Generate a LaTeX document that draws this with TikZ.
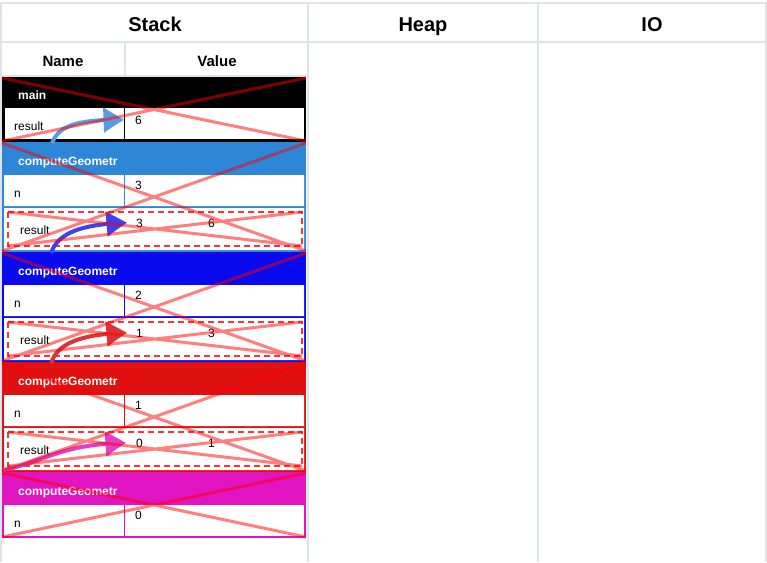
\documentclass[tikz,border=0pt]{standalone}
\usepackage{fontspec}
\setmainfont{Liberation Sans}
\usepackage{xcolor}
\usetikzlibrary{arrows.meta,bending,positioning,calc}
\definecolor{gridln}{HTML}{DFE4EC}
\definecolor{fone}{HTML}{2E86D6}
\definecolor{ftwo}{HTML}{0A0AEE}
\definecolor{fthree}{HTML}{E01010}
\definecolor{ffour}{HTML}{E014C0}
\definecolor{aone}{HTML}{5B9BE2}
\definecolor{atwo}{HTML}{4040F0}
\definecolor{athree}{HTML}{DD3333}
\definecolor{afour}{HTML}{E040C8}
\tikzset{
  grid/.style  ={draw=gridln,line width=2pt},
  colhd/.style ={anchor=base,font=\fontsize{20}{22}\selectfont\bfseries},
  subhd/.style ={anchor=base,font=\fontsize{15}{17}\selectfont\bfseries},
  fhd/.style   ={anchor=base west,inner sep=0pt,text=white,font=\fontsize{12}{14}\selectfont\bfseries},
  nm/.style    ={anchor=base west,inner sep=2pt},
  vl/.style    ={anchor=base west,inner sep=2pt},
  slot/.style  ={draw=red!80,line width=2pt,dash pattern=on 6pt off 4pt},
  xout/.style  ={red,opacity=.5,line width=3pt},
  ret/.style   ={-{Triangle[length=21pt,width=24pt,bend]},line width=4pt},
}

\begin{document}
\begin{tikzpicture}[x=1pt,y=-1pt,font=\fontsize{12}{14}\selectfont]
  \useasboundingbox (0,0) rectangle (767,562);
  % table
  \draw[grid] (0,3) -- (767,3) (0,41.5) -- (767,41.5) (0,76) -- (308,76);
  \draw[grid] (1,3) -- (1,562) (308,3) -- (308,562) (538,3) -- (538,562)
        (766,3) -- (766,562) (125,41.5) -- (125,76);
  \node[colhd] (stk) at (155,31) {Stack};
  \node[colhd] (heap) at (423,31) {Heap};
  \node[colhd] (io) at (652,31) {IO};
  \node[subhd] (nmh) at (63,66) {Name};
  \node[subhd] (valh) at (217,66) {Value};

  % main
  \fill[black] (2,77) rectangle (306,142);
  \fill[white] (5,108) rectangle (304,139);
  \draw[black,thick] (124,108) -- (124,139);
  \node[fhd] (fmain) at (18,99) {main};
  \node[nm] (rmain) at (12,130) {result};
  \node[vl] (vmain) at (133,124) {6};

  % computeGeometr, n=3
  \fill[fone] (2,142) rectangle (306,252);
  \fill[white] (4,175) rectangle (304,206) (4,208) rectangle (304,250);
  \draw[fone] (124,175) -- (124,206);
  \node[fhd] (f1) at (18,165) {computeGeometr};
  \node[nm] (n1) at (12,197) {n};
  \node[vl] (v1) at (133,189) {3};
  \draw[slot] (8,212) rectangle (302,246);
  \node[nm] (r1) at (18,234) {result};
  \node[vl] (o1) at (134,227) {3};
  \node[vl] (w1) at (206,227) {6};

  % computeGeometr, n=2
  \fill[ftwo] (2,252) rectangle (306,362);
  \fill[white] (4,285) rectangle (304,316) (4,318) rectangle (304,360);
  \draw[ftwo] (124,285) -- (124,316);
  \node[fhd] (f2) at (18,275) {computeGeometr};
  \node[nm] (n2) at (12,307) {n};
  \node[vl] (v2) at (133,299) {2};
  \draw[slot] (8,322) rectangle (302,356);
  \node[nm] (r2) at (18,344) {result};
  \node[vl] (o2) at (134,337) {1};
  \node[vl] (w2) at (206,337) {3};

  % computeGeometr, n=1
  \fill[fthree] (2,362) rectangle (306,472);
  \fill[white] (4,395) rectangle (304,426) (4,428) rectangle (304,470);
  \draw[fthree] (124,395) -- (124,426);
  \node[fhd] (f3) at (18,385) {computeGeometr};
  \node[nm] (n3) at (12,417) {n};
  \node[vl] (v3) at (133,409) {1};
  \draw[slot] (8,432) rectangle (302,466);
  \node[nm] (r3) at (18,454) {result};
  \node[vl] (o3) at (134,447) {0};
  \node[vl] (w3) at (206,447) {1};

  % computeGeometr, n=0
  \fill[ffour] (2,472) rectangle (306,538);
  \fill[white] (4,505) rectangle (304,536);
  \draw[ffour] (124,505) -- (124,536);
  \node[fhd] (f4) at (18,495) {computeGeometr};
  \node[nm] (n4) at (12,527) {n};
  \node[vl] (v4) at (133,519) {0};

  % returns
  \coordinate (s1) at (52,143);
  \coordinate (s2) at (51,253);
  \coordinate (s3) at (51,363);
  \coordinate (s4) at (3,470);
  \draw[ret,aone] (s1) .. controls (58,127) and (75,119) .. ([xshift=-9pt]vmain.west);
  \draw[ret,atwo] (s2) .. controls (57,236) and (75,224) .. ([xshift=-7pt]o1.west);
  \draw[ret,athree] (s3) .. controls (57,346) and (75,334) .. ([xshift=-7pt]o2.west);
  \draw[ret,afour] (s4) .. controls (45,462) and (60,444) .. ([xshift=-8pt]o3.west);

  % popped frames
  \draw[xout] (2,78) -- (306,141) (306,78) -- (2,141);
  \draw[xout] (2,143) -- (306,251) (306,143) -- (2,251)
        (8,212) -- (302,246) (302,212) -- (8,246);
  \draw[xout] (2,253) -- (306,361) (306,253) -- (2,361)
        (8,322) -- (302,356) (302,322) -- (8,356);
  \draw[xout] (2,363) -- (306,471) (306,363) -- (2,471)
        (8,432) -- (302,466) (302,432) -- (8,466);
  \draw[xout] (2,473) -- (306,537) (306,473) -- (2,537);
\end{tikzpicture}
\end{document}
